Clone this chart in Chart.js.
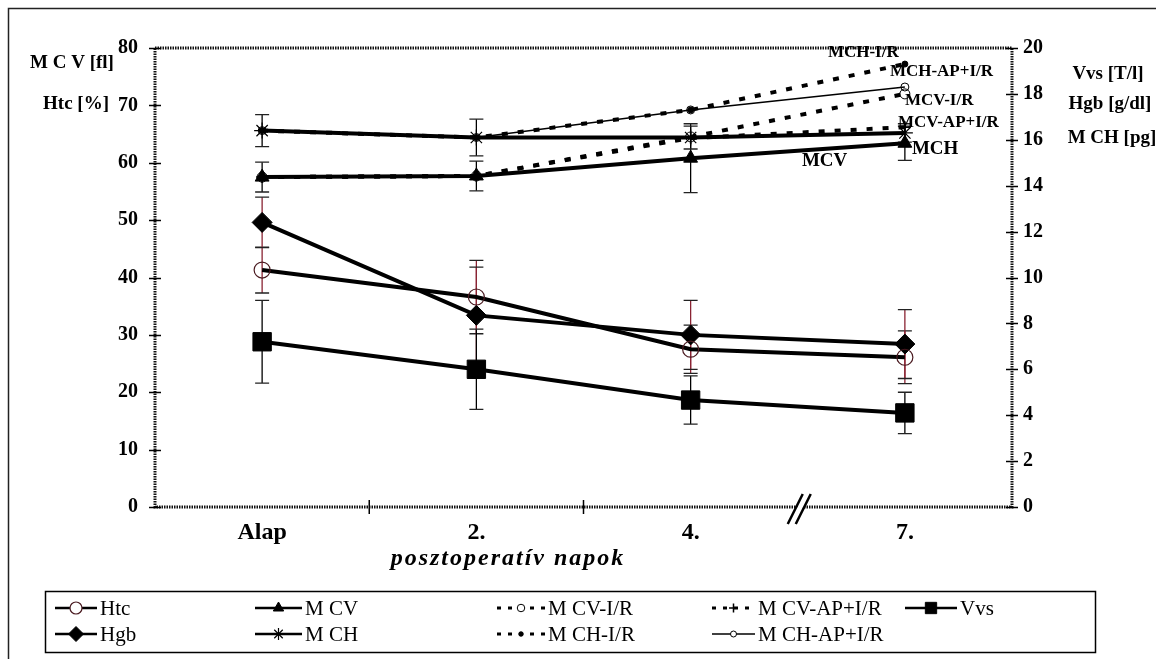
<!DOCTYPE html>
<html><head><meta charset="utf-8">
<script src="https://cdn.jsdelivr.net/npm/chart.js@4.4.0/dist/chart.umd.min.js"></script>
<style>html,body{margin:0;padding:0;background:#fff;}#wrap{width:1157px;height:659px;position:relative;}</style>
</head><body><div id="wrap"><canvas id="c" width="1157" height="659"></canvas></div>
<script>
// ---- data ----
const categories = ['Alap', '2.', '4.', '7.'];
const htc = [41.3, 36.6, 27.5, 26.1];
const htcSD = [4.0, 6.4, 4.2, 4.6];
const hgb = [12.4, 8.35, 7.5, 7.1];
const hgbSD = [1.1, 2.1, 1.5, 1.5];
const vvs = [7.2, 6.0, 4.66, 4.1];
const vvsSD = [1.8, 1.75, 1.05, 0.9];
const mcv = [57.5, 57.7, 60.8, 63.4];
const mcvSD = [2.6, 2.6, 6.0, 3.0];
const mch = [16.4, 16.1, 16.1, 16.3];
const mchSD = [0.7, 0.8, 0.5, 0.4];
const mcvIR = [57.5, 57.7, 64.5, 72.0];
const mcvAPIR = [57.5, 57.7, 64.3, 66.2];
const mchIR = [16.4, 16.1, 17.3, 19.3];
const mchAPIR = [16.4, 16.1, 17.3, 18.3];
const leftAxisMax = 80, leftAxisStep = 10;
const rightAxisMax = 20, rightAxisStep = 2;
const leftTitle = ['M C V [fl]', 'Htc [%]'];
const rightTitle = ['Vvs [T/l]', 'Hgb [g/dl]', 'M CH [pg]'];
const xTitle = 'posztoperatív napok';

const SERIF = "'Liberation Serif','Times New Roman',serif";
const RED = '#8a2433';
const BLK = '#000';

const datasets = [
  {label:'Htc', data:htc, yAxisID:'yL', borderColor:BLK, borderWidth:4, pointStyle:'circle', pointRadius:8,
   pointBackgroundColor:'rgba(255,255,255,0)', pointBorderColor:'#4a1a20', pointBorderWidth:1.2, sd:htcSD, sdColor:RED},
  {label:'Hgb', data:hgb, yAxisID:'yR', borderColor:BLK, borderWidth:4, pointStyle:'rectRot', pointRadius:10,
   pointBackgroundColor:BLK, pointBorderColor:BLK, pointBorderWidth:1, sd:hgbSD, sdColor:RED},
  {label:'M CV', data:mcv, yAxisID:'yL', borderColor:BLK, borderWidth:4, pointStyle:'triangle', pointRadius:8,
   pointBackgroundColor:BLK, pointBorderColor:BLK, pointBorderWidth:1, sd:mcvSD, sdColor:BLK},
  {label:'M CH', data:mch, yAxisID:'yR', borderColor:BLK, borderWidth:4, pointStyle:'star', pointRadius:8,
   pointBackgroundColor:BLK, pointBorderColor:BLK, pointBorderWidth:1.2, sd:mchSD, sdColor:BLK},
  {label:'M CV-I/R', data:mcvIR, yAxisID:'yL', borderColor:BLK, borderWidth:4, borderDash:[6,10], pointStyle:'circle', pointRadius:5,
   pointBackgroundColor:'rgba(255,255,255,0)', pointBorderColor:BLK, pointBorderWidth:1},
  {label:'M CH-I/R', data:mchIR, yAxisID:'yR', borderColor:BLK, borderWidth:4, borderDash:[6,10], pointStyle:'circle', pointRadius:3,
   pointBackgroundColor:BLK, pointBorderColor:BLK, pointBorderWidth:1},
  {label:'M CV-AP+I/R', data:mcvAPIR, yAxisID:'yL', borderColor:BLK, borderWidth:4, borderDash:[6,10], pointStyle:'cross', pointRadius:6,
   pointBackgroundColor:BLK, pointBorderColor:BLK, pointBorderWidth:1.5},
  {label:'M CH-AP+I/R', data:mchAPIR, yAxisID:'yR', borderColor:BLK, borderWidth:1.5, pointStyle:'circle', pointRadius:4,
   pointBackgroundColor:'rgba(255,255,255,0)', pointBorderColor:BLK, pointBorderWidth:1},
  {label:'Vvs', data:vvs, yAxisID:'yR', borderColor:BLK, borderWidth:4, pointStyle:'rect', pointRadius:13,
   pointBackgroundColor:BLK, pointBorderColor:BLK, pointBorderWidth:1, sd:vvsSD, sdColor:BLK}
];

// legend layout (grid of rows/cols)
const legendRows = [
  [['Htc',55,100],['M CV',255,305],['M CV-I/R',497,548],['M CV-AP+I/R',712,758],['Vvs',905,960]],
  [['Hgb',55,100],['M CH',255,305],['M CH-I/R',497,548],['M CH-AP+I/R',712,758]]
];

function dsByLabel(l){ return datasets.find(d=>d.label===l); }

const decor = {
  id:'decor',
  beforeDatasetsDraw(chart){
    const ctx = chart.ctx, x = chart.scales.x;
    ctx.save();
    ctx.lineWidth = 1.3;
    datasets.forEach(d=>{
      if(!d.sd) return;
      const ys = chart.scales[d.yAxisID];
      d.data.forEach((v,i)=>{
        const px = x.getPixelForValue(i);
        const y1 = ys.getPixelForValue(v + d.sd[i]);
        const y2 = ys.getPixelForValue(v - d.sd[i]);
        ctx.strokeStyle = d.sdColor;
        ctx.beginPath();
        ctx.moveTo(px, y1); ctx.lineTo(px, y2);
        ctx.stroke();
        ctx.strokeStyle = '#222';
        ctx.beginPath();
        ctx.moveTo(px-7, y1); ctx.lineTo(px+7, y1);
        ctx.moveTo(px-7, y2); ctx.lineTo(px+7, y2);
        ctx.stroke();
      });
    });
    ctx.restore();
  },
  afterDraw(chart){
    const ctx = chart.ctx, a = chart.chartArea;
    const xs = chart.scales.x, yL = chart.scales.yL, yR = chart.scales.yR;
    ctx.save();
    // outer frame
    ctx.strokeStyle = '#222'; ctx.lineWidth = 1.5;
    ctx.beginPath(); ctx.moveTo(8.5, 659); ctx.lineTo(8.5, 8.5); ctx.lineTo(1156, 8.5); ctx.stroke();
    // plot frame (dotted heavy)
    ctx.strokeStyle = '#111'; ctx.lineWidth = 3; ctx.setLineDash([1.5,1]);
    ctx.strokeRect(a.left, a.top, a.right - a.left, a.bottom - a.top);
    ctx.setLineDash([]);
    // tick crosses
    ctx.lineWidth = 1.5; ctx.strokeStyle = '#000';
    for(let v=0; v<=leftAxisMax; v+=leftAxisStep){
      const y = Math.round(yL.getPixelForValue(v))+0.5;
      ctx.beginPath(); ctx.moveTo(a.left-6, y); ctx.lineTo(a.left+6, y); ctx.stroke();
    }
    for(let v=0; v<=rightAxisMax; v+=rightAxisStep){
      const y = Math.round(yR.getPixelForValue(v))+0.5;
      ctx.beginPath(); ctx.moveTo(a.right-6, y); ctx.lineTo(a.right+6, y); ctx.stroke();
    }
    // x boundary ticks between categories (last boundary replaced by break)
    for(let i=0;i<categories.length-2;i++){
      const bx = (xs.getPixelForValue(i)+xs.getPixelForValue(i+1))/2;
      ctx.beginPath(); ctx.moveTo(bx, a.bottom-7); ctx.lineTo(bx, a.bottom+7); ctx.stroke();
    }
    // axis break
    const brx = (xs.getPixelForValue(categories.length-2)+xs.getPixelForValue(categories.length-1))/2;
    ctx.fillStyle = '#fff';
    ctx.beginPath(); ctx.moveTo(brx-8, a.bottom+14); ctx.lineTo(brx+6, a.bottom-12); ctx.lineTo(brx+12, a.bottom-12); ctx.lineTo(brx-2, a.bottom+14); ctx.closePath(); ctx.fill();
    ctx.lineWidth = 2.5; ctx.strokeStyle = '#000';
    ctx.beginPath();
    ctx.moveTo(brx-10, a.bottom+17); ctx.lineTo(brx+5, a.bottom-13);
    ctx.moveTo(brx-2, a.bottom+17); ctx.lineTo(brx+13, a.bottom-13);
    ctx.stroke();
    // axis titles
    ctx.fillStyle = '#000';
    ctx.font = 'bold 19px ' + SERIF;
    ctx.textAlign = 'center'; ctx.textBaseline = 'middle';
    ctx.fillText(leftTitle[0], 72, 63);
    ctx.fillText(leftTitle[1], 76, 104);
    ctx.fillText(rightTitle[0], 1108, 74);
    ctx.fillText(rightTitle[1], 1110, 104);
    ctx.fillText(rightTitle[2], 1112, 138);
    ctx.font = 'italic bold 24px ' + SERIF;
    try { ctx.letterSpacing = '2px'; } catch(e) {}
    ctx.fillText(xTitle, 508, 559);
    try { ctx.letterSpacing = '0px'; } catch(e) {}
    // end-of-line annotations
    const x7 = xs.getPixelForValue(categories.length-1);
    const last = arr => arr[arr.length-1];
    ctx.font = 'bold 17px ' + SERIF; ctx.textAlign = 'left';
    ctx.fillText('MCH-I/R', x7-77, yR.getPixelForValue(last(mchIR))-11);
    ctx.fillText('MCH-AP+I/R', x7-15, yR.getPixelForValue(last(mchAPIR))-15);
    ctx.fillText('MCV-I/R', x7, yL.getPixelForValue(last(mcvIR))+7);
    ctx.fillText('MCV-AP+I/R', x7-7, yL.getPixelForValue(last(mcvAPIR))-5);
    ctx.font = 'bold 19px ' + SERIF;
    ctx.fillText('MCH', x7+7, yR.getPixelForValue(last(mch))+16);
    ctx.fillText('MCV', x7-103, yL.getPixelForValue(last(mcv))+18);
    // legend
    ctx.lineWidth = 1.5; ctx.strokeStyle = '#000';
    ctx.strokeRect(45.5, 591.5, 1050, 61);
    const rowY = [608, 634];
    ctx.font = '21px ' + SERIF; ctx.textBaseline = 'middle';
    legendRows.forEach((row, r)=>{
      const y = rowY[r];
      row.forEach(([lab, lx, tx])=>{
        const d = dsByLabel(lab);
        const lw = tx - lx - 3;
        ctx.save();
        ctx.strokeStyle = BLK;
        ctx.lineWidth = d.borderDash ? 3 : Math.min(d.borderWidth, 2.5);
        ctx.setLineDash(d.borderDash ? [4,7] : []);
        ctx.beginPath(); ctx.moveTo(lx, y); ctx.lineTo(lx+lw, y); ctx.stroke();
        ctx.setLineDash([]);
        ctx.fillStyle = d.pointBackgroundColor; ctx.strokeStyle = d.pointBorderColor;
        ctx.lineWidth = d.pointBorderWidth;
        if(d.pointStyle==='circle' && d.pointBackgroundColor.indexOf('rgba')===0){
          ctx.fillStyle = '#fff';
        }
        Chart.helpers.drawPoint(ctx, {pointStyle:d.pointStyle, radius:Math.min(d.pointRadius*0.75, 8), rotation:0, borderWidth:d.pointBorderWidth}, lx+lw/2, y);
        ctx.restore();
        ctx.fillStyle = '#000'; ctx.textAlign='left';
        ctx.fillText(lab, tx, y+1);
      });
    });
    ctx.restore();
  }
};

new Chart(document.getElementById('c'), {
  type:'line',
  data:{ labels:categories, datasets:datasets.map(d=>Object.assign({fill:false, tension:0, pointHoverRadius:d.pointRadius}, d)) },
  options:{
    responsive:false, animation:false, events:[],
    layout:{ padding:{ top:48, left:0, right:0, bottom:0 } },
    plugins:{ legend:{display:false}, title:{display:false}, tooltip:{enabled:false} },
    scales:{
      x:{ type:'category', offset:true, grid:{display:false, drawTicks:false}, border:{display:false},
          ticks:{ padding:11, color:'#000', font:{family:SERIF, size:24, weight:'bold'} },
          afterFit(s){ s.height = 152; } },
      yL:{ type:'linear', position:'left', min:0, max:leftAxisMax, grid:{display:false, drawTicks:false}, border:{display:false},
          ticks:{ stepSize:leftAxisStep, padding:17, color:'#000', font:{family:SERIF, size:20, weight:'bold'} },
          afterFit(s){ s.width = 155; } },
      yR:{ type:'linear', position:'right', min:0, max:rightAxisMax, grid:{display:false, drawTicks:false}, border:{display:false},
          ticks:{ stepSize:rightAxisStep, padding:11, color:'#000', font:{family:SERIF, size:20, weight:'bold'} },
          afterFit(s){ s.width = 145; } }
    }
  },
  plugins:[decor]
});
</script>
</body></html>
